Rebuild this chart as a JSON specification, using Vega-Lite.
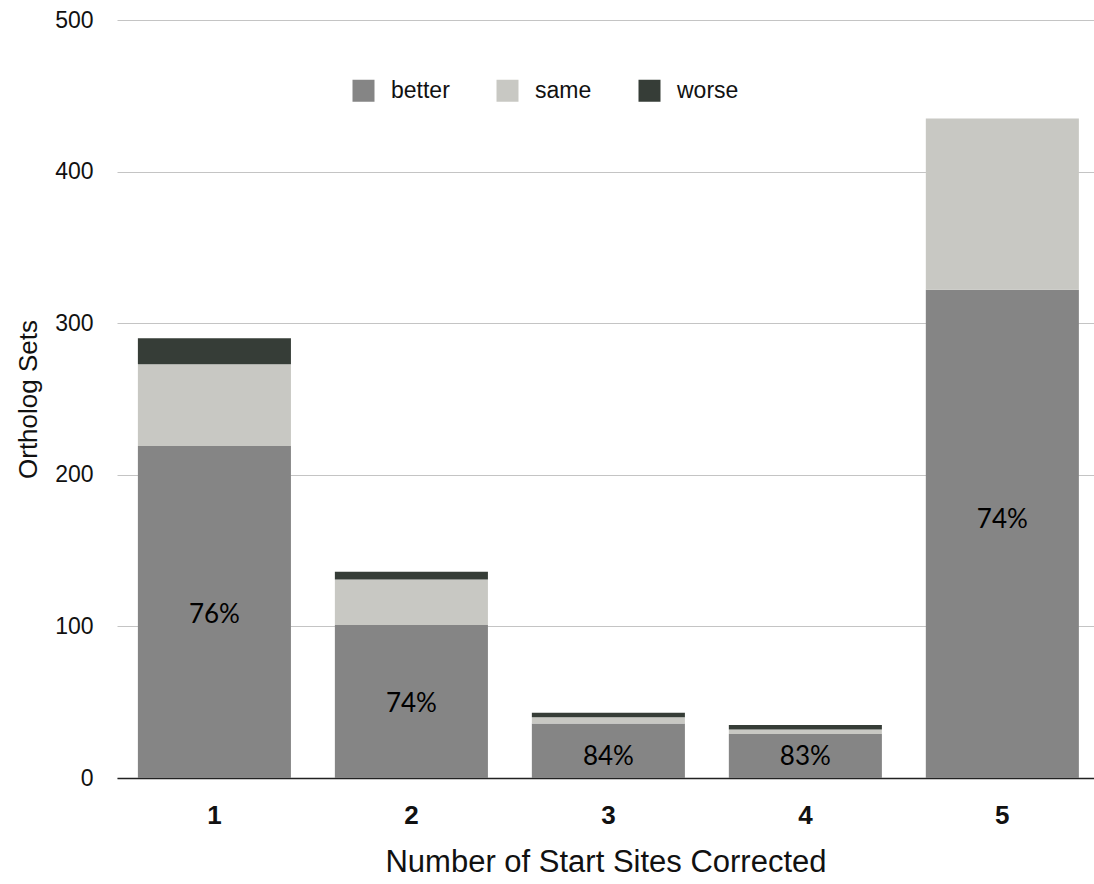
{
  "$schema": "https://vega.github.io/schema/vega-lite/v6.json",
  "width": 977,
  "height": 758,
  "autosize": "none",
  "padding": {"left": 117, "top": 20, "right": 0, "bottom": 106},
  "background": "white",
  "config": {
    "view": {"stroke": null},
    "font": "Liberation Sans"
  },
  "layer": [
    {
      "data": {
        "values": [
          {"n": "1", "outcome": "better", "rank": 1, "count": 219},
          {"n": "1", "outcome": "same", "rank": 2, "count": 54},
          {"n": "1", "outcome": "worse", "rank": 3, "count": 17},
          {"n": "2", "outcome": "better", "rank": 1, "count": 101},
          {"n": "2", "outcome": "same", "rank": 2, "count": 30},
          {"n": "2", "outcome": "worse", "rank": 3, "count": 5},
          {"n": "3", "outcome": "better", "rank": 1, "count": 36},
          {"n": "3", "outcome": "same", "rank": 2, "count": 4},
          {"n": "3", "outcome": "worse", "rank": 3, "count": 3},
          {"n": "4", "outcome": "better", "rank": 1, "count": 29},
          {"n": "4", "outcome": "same", "rank": 2, "count": 3},
          {"n": "4", "outcome": "worse", "rank": 3, "count": 3},
          {"n": "5", "outcome": "better", "rank": 1, "count": 322},
          {"n": "5", "outcome": "same", "rank": 2, "count": 113},
          {"n": "5", "outcome": "worse", "rank": 3, "count": 0}
        ]
      },
      "mark": {"type": "bar"},
      "encoding": {
        "x": {
          "field": "n",
          "type": "ordinal",
          "scale": {"paddingInner": 0.223, "paddingOuter": 0.0914, "align": 0.58},
          "axis": {
            "title": "Number of Start Sites Corrected",
            "titleFontSize": 31,
            "titleFontWeight": "normal",
            "titleColor": "#111111",
            "titlePadding": 19,
            "labelAngle": 0,
            "labelFontSize": 26,
            "labelFontWeight": "bold",
            "labelColor": "#111111",
            "labelPadding": 24,
            "ticks": false,
            "domainColor": "#222222",
            "domainWidth": 1.5,
            "grid": false
          }
        },
        "y": {
          "field": "count",
          "type": "quantitative",
          "stack": "zero",
          "scale": {"domain": [0, 500], "nice": false},
          "axis": {
            "title": "Ortholog Sets",
            "titleFontSize": 26,
            "titleFontWeight": "normal",
            "titleColor": "#111111",
            "titlePadding": 13,
            "values": [0, 100, 200, 300, 400, 500],
            "labelFontSize": 23,
            "labelColor": "#111111",
            "labelPadding": 24,
            "ticks": false,
            "domain": false,
            "grid": true,
            "gridColor": "#c4c4c4",
            "gridWidth": 1
          }
        },
        "color": {
          "field": "outcome",
          "type": "nominal",
          "scale": {"domain": ["better", "same", "worse"], "range": ["#858585", "#c8c8c3", "#363d37"]},
          "legend": {
            "title": null,
            "orient": "none",
            "legendX": 235,
            "legendY": 59,
            "direction": "horizontal",
            "symbolType": "square",
            "symbolSize": 484,
            "symbolStrokeWidth": 0,
            "symbolOpacity": 1,
            "labelFontSize": 23,
            "labelColor": "#111111",
            "labelOffset": 16,
            "columnPadding": 46,
            "padding": 0
          }
        },
        "order": {"field": "rank", "type": "quantitative"}
      }
    },
    {
      "data": {
        "values": [
          {"n": "1", "label": "76%", "pos": 107.5},
          {"n": "2", "label": "74%", "pos": 49},
          {"n": "3", "label": "84%", "pos": 14},
          {"n": "4", "label": "83%", "pos": 14},
          {"n": "5", "label": "74%", "pos": 170}
        ]
      },
      "mark": {"type": "text", "font": "Lato", "fontSize": 26, "color": "#000000", "baseline": "middle", "align": "center"},
      "encoding": {
        "x": {"field": "n", "type": "ordinal"},
        "y": {"field": "pos", "type": "quantitative"},
        "text": {"field": "label"}
      }
    }
  ]
}
